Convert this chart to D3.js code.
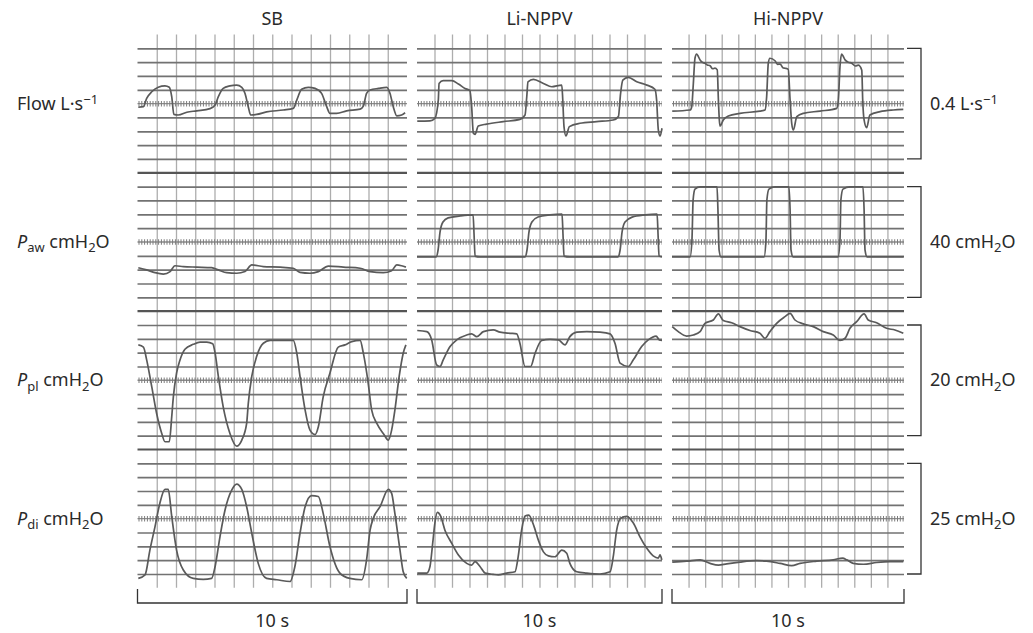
<!DOCTYPE html>
<html><head><meta charset="utf-8">
<script src="https://cdn.jsdelivr.net/npm/d3@7"></script>
<style>
body{margin:0;background:#fff}
svg{display:block}
text{font-family:"Noto Sans",sans-serif;fill:#2a2a2a}
</style>
</head><body>
<svg id="chart" width="1033" height="633"></svg>
<script>
// ---------------- data ----------------
const conditions = ["SB", "Li-NPPV", "Hi-NPPV"];
const channelNames = ["Flow", "Paw", "Ppl", "Pdi"];
const scaleBarValues = [0.4, 40, 20, 25];           // value spanned by 8 grid divisions
const durationSeconds = 10;
const timeBarLabel = "10 s";
const gridDivisionsPerScaleBar = 8;
const verticalDivisions = 14;

// traces: [time (s), value relative to centre line]  Flow L/s, pressures cmH2O
const sbFlow = [[0.03,-0.013],[0.22,-0.011],[0.34,0.019],[0.53,0.043],[0.77,0.059],[1.02,0.064],[1.18,0.059],[1.27,0.025],[1.35,-0.039],[1.51,-0.041],[1.83,-0.031],[2.20,-0.026],[2.69,-0.018],[2.88,-0.005],[3.00,0.025],[3.18,0.055],[3.43,0.064],[3.68,0.067],[3.87,0.059],[3.99,0.037],[4.11,-0.011],[4.20,-0.041],[4.42,-0.039],[4.79,-0.030],[5.41,-0.023],[5.78,-0.017],[5.91,0.013],[6.09,0.052],[6.34,0.059],[6.59,0.055],[6.83,0.037],[7.02,-0.011],[7.14,-0.035],[7.39,-0.035],[7.76,-0.026],[8.26,-0.020],[8.38,-0.009],[8.50,0.037],[8.63,0.049],[8.94,0.055],[9.25,0.059],[9.37,0.037],[9.49,-0.011],[9.62,-0.044],[9.80,-0.041],[9.93,-0.033]];
const liFlow = [[0.01,-0.063],[0.53,-0.062],[0.73,-0.053],[0.87,0.013],[0.90,0.073],[1.07,0.083],[1.42,0.083],[1.69,0.071],[1.96,0.055],[2.16,0.047],[2.23,-0.011],[2.30,-0.107],[2.37,-0.111],[2.50,-0.081],[2.84,-0.074],[3.52,-0.065],[4.20,-0.057],[4.41,-0.041],[4.48,0.025],[4.53,0.079],[4.75,0.088],[5.16,0.073],[5.50,0.061],[5.91,0.067],[5.95,0.013],[6.00,-0.083],[6.08,-0.117],[6.22,-0.083],[6.65,-0.071],[7.33,-0.065],[8.01,-0.059],[8.22,-0.047],[8.31,0.037],[8.40,0.085],[8.62,0.095],[8.97,0.079],[9.38,0.067],[9.71,0.052],[9.78,0.013],[9.85,-0.095],[9.92,-0.117],[10.0,-0.089]];
const hiFlow = [[0.01,-0.027],[0.78,-0.023],[0.85,-0.011],[0.92,0.073],[0.99,0.164],[1.06,0.179],[1.21,0.158],[1.30,0.150],[1.42,0.146],[1.52,0.140],[1.64,0.137],[1.75,0.126],[1.85,0.128],[1.95,0.122],[2.00,0.013],[2.04,-0.059],[2.07,-0.081],[2.21,-0.059],[2.43,-0.045],[2.93,-0.035],[3.79,-0.027],[4.01,-0.023],[4.08,0.025],[4.15,0.146],[4.22,0.164],[4.44,0.155],[4.55,0.142],[4.66,0.143],[4.78,0.130],[4.87,0.128],[5.01,0.124],[5.09,0.013],[5.16,-0.071],[5.23,-0.095],[5.38,-0.047],[5.66,-0.035],[6.38,-0.027],[7.10,-0.017],[7.17,0.013],[7.24,0.133],[7.31,0.179],[7.46,0.158],[7.60,0.150],[7.75,0.146],[7.90,0.136],[8.03,0.139],[8.18,0.121],[8.22,0.013],[8.28,-0.059],[8.39,-0.087],[8.53,-0.041],[8.97,-0.029],[9.54,-0.023],[9.97,-0.021]];

const sbPaw = [[0.03,-9.3],[0.34,-10.1],[0.65,-11.1],[0.96,-11.6],[1.21,-10.7],[1.39,-8.6],[1.70,-8.9],[2.20,-9.1],[2.75,-9.3],[3.00,-10.1],[3.31,-11.1],[3.68,-11.3],[3.99,-10.7],[4.24,-8.3],[4.67,-8.9],[5.29,-9.1],[5.78,-9.5],[6.03,-11.0],[6.40,-11.3],[6.71,-10.7],[7.08,-8.7],[7.64,-9.1],[8.26,-9.5],[8.63,-10.7],[9.12,-11.1],[9.43,-10.4],[9.62,-8.3],[9.80,-8.6],[9.96,-9.1]];
const liPaw = [[0.00,-5.4],[0.78,-5.4],[0.86,-2.9],[0.94,3.6],[1.06,7.2],[1.27,8.7],[1.76,9.4],[2.29,9.8],[2.33,2.5],[2.37,-5.1],[2.57,-5.4],[4.41,-5.4],[4.49,-2.9],[4.57,3.6],[4.69,7.2],[4.94,9.0],[5.43,9.8],[5.92,10.1],[5.96,2.5],[6.00,-5.1],[6.24,-5.4],[8.20,-5.4],[8.29,-2.9],[8.37,3.6],[8.49,7.2],[8.78,9.0],[9.31,9.8],[9.80,10.1],[9.84,2.5],[9.88,-5.1],[10.0,-5.4]];
const hiPaw = [[0.00,-5.4],[0.78,-5.4],[0.86,0.7],[0.91,15.2],[0.99,19.1],[1.21,19.9],[1.94,19.9],[1.98,11.6],[2.03,-2.9],[2.11,-5.4],[3.97,-5.4],[4.05,0.7],[4.09,15.2],[4.18,19.1],[4.44,19.9],[5.04,19.9],[5.09,11.6],[5.13,-2.9],[5.22,-5.4],[7.16,-5.4],[7.24,0.7],[7.28,15.2],[7.37,19.1],[7.67,19.9],[8.23,19.9],[8.28,11.6],[8.32,-2.9],[8.41,-5.4],[9.99,-5.4]];

const sbPpl = [[0.03,6.4],[0.22,6.0],[0.34,3.7],[0.53,-1.2],[0.71,-6.0],[0.90,-9.6],[1.02,-11.1],[1.18,-11.1],[1.27,-6.6],[1.33,-3.0],[1.45,1.3],[1.58,3.7],[1.76,5.6],[2.07,6.5],[2.32,6.9],[2.57,6.9],[2.79,6.6],[2.88,4.9],[3.00,0.7],[3.18,-4.8],[3.43,-9.6],[3.68,-11.9],[3.87,-10.8],[4.05,-7.8],[4.11,-4.2],[4.24,0.7],[4.42,4.3],[4.67,6.7],[4.92,7.2],[5.41,7.2],[5.78,7.2],[5.91,4.9],[6.03,0.7],[6.22,-5.4],[6.40,-9.0],[6.59,-9.8],[6.71,-8.4],[6.89,-3.0],[7.14,1.3],[7.45,6.0],[7.70,6.4],[7.95,7.0],[8.26,7.2],[8.38,4.9],[8.56,-0.5],[8.69,-5.4],[8.88,-7.8],[9.12,-9.6],[9.31,-10.8],[9.43,-9.0],[9.55,-5.4],[9.71,0.7],[9.86,4.9],[9.96,6.4]];
const liPpl = [[0.01,9.0],[0.40,8.8],[0.60,7.3],[0.80,2.8],[0.94,2.5],[1.07,3.7],[1.35,6.1],[1.62,7.3],[2.03,8.2],[2.23,8.4],[2.44,7.9],[2.71,8.8],[3.11,9.1],[3.39,8.7],[3.80,8.5],[4.07,8.4],[4.20,6.7],[4.41,2.5],[4.64,2.5],[4.82,4.9],[5.09,7.2],[5.43,7.4],[5.77,7.3],[6.04,6.4],[6.24,7.9],[6.52,8.7],[6.93,8.8],[7.47,8.7],[7.88,8.4],[8.08,6.7],[8.29,3.1],[8.62,2.5],[8.83,3.7],[9.17,6.1],[9.44,7.3],[9.76,8.0],[9.89,7.3],[10.0,7.2]];
const hiPpl = [[0.01,9.7],[0.27,8.8],[0.63,8.0],[0.92,8.2],[1.21,8.8],[1.42,10.3],[1.78,10.9],[2.00,12.0],[2.21,10.8],[2.57,10.4],[2.93,9.7],[3.36,9.0],[3.79,8.5],[4.01,7.6],[4.22,8.8],[4.51,10.3],[4.87,11.5],[5.09,12.1],[5.30,10.9],[5.66,10.2],[6.09,9.7],[6.52,8.8],[6.95,8.2],[7.24,7.2],[7.46,7.6],[7.67,9.4],[7.96,10.6],[8.28,12.0],[8.46,10.9],[8.82,10.4],[9.25,9.4],[9.61,9.1],[9.97,8.5]];

const sbPdi = [[0.03,-13.5],[0.28,-12.7],[0.46,-7.1],[0.65,-1.8],[0.83,3.5],[1.02,6.6],[1.14,6.6],[1.27,0.5],[1.45,-7.1],[1.70,-11.6],[2.07,-13.5],[2.44,-13.7],[2.75,-13.5],[2.88,-10.8],[3.06,-4.1],[3.25,2.0],[3.50,6.5],[3.68,7.8],[3.87,6.6],[4.05,2.7],[4.24,-3.3],[4.48,-10.1],[4.79,-13.5],[5.17,-13.8],[5.66,-14.2],[5.84,-10.8],[6.03,-3.3],[6.22,2.7],[6.46,5.2],[6.71,5.0],[6.89,1.2],[7.14,-6.3],[7.51,-12.3],[7.88,-13.5],[8.32,-13.8],[8.50,-9.3],[8.63,-2.6],[8.75,0.1],[9.00,2.7],[9.31,6.6],[9.43,5.7],[9.55,1.2],[9.74,-7.1],[9.86,-12.0],[9.99,-13.5]];
const liPdi = [[0.01,-12.3],[0.40,-12.3],[0.53,-10.8],[0.64,-5.6],[0.73,-1.0],[0.83,1.4],[0.97,0.5],[1.14,-2.6],[1.42,-5.6],[1.69,-8.2],[2.03,-10.1],[2.23,-10.5],[2.37,-9.7],[2.57,-10.8],[2.78,-12.3],[3.11,-12.6],[3.32,-12.7],[3.66,-12.3],[4.00,-12.0],[4.13,-8.6],[4.27,-2.6],[4.41,0.6],[4.56,0.8],[4.78,-1.8],[4.95,-4.8],[5.16,-7.5],[5.36,-8.4],[5.63,-8.6],[5.91,-7.1],[6.11,-7.8],[6.24,-10.1],[6.52,-12.0],[6.93,-12.3],[7.47,-12.5],[7.88,-12.0],[8.01,-8.6],[8.15,-2.6],[8.31,0.1],[8.56,0.5],[8.83,-1.0],[9.10,-4.1],[9.38,-6.7],[9.64,-8.4],[9.85,-8.9],[9.92,-8.2],[9.99,-9.3]];
const hiPdi = [[0.01,-9.8],[0.63,-9.6],[1.21,-9.3],[1.64,-10.1],[2.00,-10.5],[2.36,-10.2],[2.93,-9.8],[3.65,-9.5],[4.08,-9.6],[4.66,-10.1],[5.16,-10.6],[5.52,-10.1],[6.24,-9.6],[6.95,-9.3],[7.36,-8.9],[7.53,-9.3],[7.81,-10.1],[8.25,-10.3],[8.82,-9.9],[9.40,-9.7],[9.97,-9.7]];

const traces = [
  [sbFlow, sbPaw, sbPpl, sbPdi],
  [liFlow, liPaw, liPpl, liPdi],
  [hiFlow, hiPaw, hiPpl, hiPdi]
];

// ---------------- layout ----------------
const svg = d3.select("#chart");
const panelX = [[137.5, 407], [417, 662], [672, 904]];
const gridTop = 48.3, gridStep = 13.834;
const centres = [4, 14, 24, 34].map(i => gridTop + i * gridStep);
const FS = 18;

const xScales = panelX.map(([a, b]) => d3.scaleLinear().domain([0, durationSeconds]).range([a, b]));
const yScales = scaleBarValues.map((v, k) => {
  const u = v / gridDivisionsPerScaleBar;
  return d3.scaleLinear().domain([-5 * u, 5 * u]).range([centres[k] + 5 * gridStep, centres[k] - 5 * gridStep]);
});

const gridG = svg.append("g");
const yTop = yScales[0](5 * scaleBarValues[0] / 8);
const yBot = yScales[3](-5 * scaleBarValues[3] / 8);

// vertical grid lines
xScales.forEach(xs => {
  const ticks = d3.range(1, verticalDivisions).map(i => i * durationSeconds / verticalDivisions);
  const ax = d3.axisBottom(xs).tickValues(ticks).tickSize(-(yBot - yTop)).tickFormat("");
  const g = gridG.append("g").attr("transform", `translate(0,${yBot})`).call(ax);
  g.select(".domain").remove();
  g.selectAll(".tick line").attr("stroke", "#adadad").attr("stroke-width", 1.3);
});

// horizontal grid lines per channel
xScales.forEach(xs => {
  const [x0, x1] = xs.range();
  yScales.forEach((ys, k) => {
    const u = scaleBarValues[k] / 8;
    const vals = d3.range(-4, 5).filter(j => j !== 0).map(j => j * u);
    const ax = d3.axisLeft(ys).tickValues(vals).tickSize(-(x1 - x0)).tickFormat("");
    const g = gridG.append("g").attr("transform", `translate(${x0},0)`).call(ax);
    g.select(".domain").remove();
    g.selectAll(".tick line").attr("stroke", "#727272").attr("stroke-width", 1.7);
    // centre ruler line
    const yc = ys(0);
    gridG.append("line").attr("x1", x0).attr("x2", x1).attr("y1", yc).attr("y2", yc)
      .attr("stroke", "#8a8a8a").attr("stroke-width", 1.4);
    gridG.append("line").attr("x1", x0 + 1).attr("x2", x1).attr("y1", yc).attr("y2", yc)
      .attr("stroke", "#7c7c7c").attr("stroke-width", 5.5).attr("stroke-dasharray", "1 1.8");
    // separator below channel
    if (k < 3) {
      const ysep = ys(-5 * u);
      gridG.append("line").attr("x1", x0).attr("x2", x1).attr("y1", ysep).attr("y2", ysep)
        .attr("stroke", "#555").attr("stroke-width", 2.2);
    }
  });
});

// traces
const traceG = svg.append("g");
traces.forEach((chs, p) => {
  chs.forEach((data, k) => {
    const line = d3.line().x(d => xScales[p](d[0])).y(d => yScales[k](d[1])).curve(d3.curveMonotoneX);
    traceG.append("path").datum(data).attr("d", line)
      .attr("fill", "none").attr("stroke", "#5a5a5a").attr("stroke-width", 1.7).attr("stroke-linejoin", "round");
  });
});

// rich text helper
function rich(sel, parts) {
  let shift = 0;
  parts.forEach(p => {
    const ts = sel.append("tspan").text(p.t);
    let target = 0;
    if (p.sub) target = 0.25 * FS;
    if (p.sup) target = -0.3 * FS;
    if (p.sub || p.sup) ts.attr("font-size", (FS * 0.72) + "px");
    if (p.it) ts.attr("font-style", "italic");
    ts.attr("dy", target - shift);
    shift = target;
  });
}

const leftLabels = [
  [{t: "Flow L·s"}, {t: "−1", sup: 1}],
  [{t: "P", it: 1}, {t: "aw", sub: 1}, {t: " cmH"}, {t: "2", sub: 1}, {t: "O"}],
  [{t: "P", it: 1}, {t: "pl", sub: 1}, {t: " cmH"}, {t: "2", sub: 1}, {t: "O"}],
  [{t: "P", it: 1}, {t: "di", sub: 1}, {t: " cmH"}, {t: "2", sub: 1}, {t: "O"}]
];
const rightLabels = [
  [{t: "0.4 L·s"}, {t: "−1", sup: 1}],
  [{t: "40 cmH"}, {t: "2", sub: 1}, {t: "O"}],
  [{t: "20 cmH"}, {t: "2", sub: 1}, {t: "O"}],
  [{t: "25 cmH"}, {t: "2", sub: 1}, {t: "O"}]
];

const labG = svg.append("g").attr("font-size", FS + "px");
centres.forEach((c, k) => {
  rich(labG.append("text").attr("x", 17).attr("y", c + 6), leftLabels[k]);
  rich(labG.append("text").attr("x", 930).attr("y", c + 6), rightLabels[k]);
  const ys = yScales[k];
  const u = scaleBarValues[k] / 8;
  const a = ys(4 * u), b = ys(-4 * u);
  labG.append("path").attr("d", `M907,${a}H921V${b}H907`).attr("fill", "none").attr("stroke", "#333").attr("stroke-width", 1.3);
});

xScales.forEach((xs, p) => {
  const [x0, x1] = xs.range();
  labG.append("text").attr("x", (x0 + x1) / 2).attr("y", 25).attr("text-anchor", "middle").text(conditions[p]);
  labG.append("path").attr("d", `M${x0},589V603H${x1}V589`).attr("fill", "none").attr("stroke", "#333").attr("stroke-width", 1.3);
  labG.append("text").attr("x", (x0 + x1) / 2).attr("y", 627).attr("text-anchor", "middle").text(timeBarLabel);
});
</script>
</body></html>
